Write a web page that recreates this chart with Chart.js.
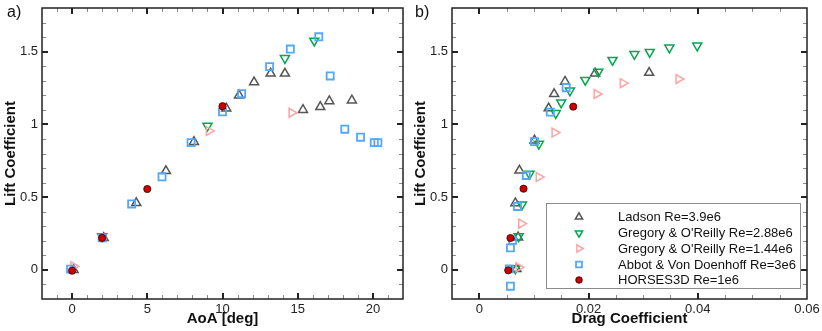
<!DOCTYPE html>
<html><head><meta charset="utf-8">
<script src="https://cdn.jsdelivr.net/npm/chart.js@4/dist/chart.umd.min.js"></script>
<style>
html,body{margin:0;padding:0;background:#fff;width:822px;height:331px;overflow:hidden}
#ca{position:absolute;left:0;top:0}
#cb{position:absolute;left:410px;top:0}
</style></head><body>
<canvas id="ca" width="410" height="331"></canvas>
<canvas id="cb" width="412" height="331"></canvas>
<script>
// ---------- Panel a) : Lift coefficient vs angle of attack ----------
const ladsonAoA   = [0.1, 2.1, 4.27, 6.24, 8.1, 10.25, 11.1, 12.1, 13.2, 14.15, 15.35, 16.5, 17.1, 18.6];
const ladsonClA   = [0.0, 0.22, 0.46, 0.68, 0.88, 1.11, 1.20, 1.29, 1.35, 1.35, 1.10, 1.12, 1.16, 1.165];
const greg288AoA  = [2.0, 9.0, 14.15, 16.1];
const greg288ClA  = [0.23, 0.99, 1.455, 1.575];
const greg144AoA  = [0.1, 9.1, 14.6];
const greg144ClA  = [0.025, 0.955, 1.08];
const abbotAoA    = [-0.1, 2.0, 3.96, 5.98, 7.91, 10.0, 11.27, 13.13, 14.51, 16.4, 17.16, 18.13, 19.18, 20.09, 20.33];
const abbotClA    = [0.005, 0.22, 0.453, 0.64, 0.875, 1.086, 1.211, 1.397, 1.518, 1.602, 1.333, 0.967, 0.912, 0.875, 0.875];
const horsesAoA   = [0, 2, 5, 10];
const horsesClA   = [-0.005, 0.22, 0.556, 1.125];

// ---------- Panel b) : Lift coefficient vs drag coefficient ----------
const ladsonCd    = [0.0068, 0.0071, 0.0066, 0.00735, 0.0101, 0.0127, 0.0137, 0.0157, 0.0212, 0.0311];
const ladsonClB   = [0.007, 0.224, 0.459, 0.683, 0.89, 1.111, 1.209, 1.294, 1.351, 1.355];
const greg288Cd   = [0.0066, 0.0072, 0.0078, 0.0092, 0.0109, 0.0140, 0.0150, 0.0166, 0.0194, 0.0218, 0.0244, 0.0284, 0.0312, 0.0348, 0.0399];
const greg288ClB  = [0.01, 0.23, 0.448, 0.66, 0.866, 1.077, 1.150, 1.232, 1.305, 1.362, 1.442, 1.483, 1.497, 1.527, 1.541];
const greg144Cd   = [0.0072, 0.0077, 0.0109, 0.0138, 0.0215, 0.0263, 0.0365];
const greg144ClB  = [0.018, 0.318, 0.638, 0.944, 1.209, 1.283, 1.312];
const abbotCd     = [0.0057, 0.0055, 0.0057, 0.0061, 0.0070, 0.0086, 0.0101, 0.0130, 0.0159];
const abbotClB    = [-0.112, 0.007, 0.151, 0.203, 0.436, 0.649, 0.882, 1.084, 1.252];
const horsesCd    = [0.0053, 0.0057, 0.0081, 0.0172];
const horsesClB   = [-0.003, 0.219, 0.558, 1.122];

// ---------- axes / tick labels ----------
const yRange = [-0.2, 1.8];
const yTickVals = [0, 0.5, 1, 1.5];
const yTickLabels = ['0', '0.5', '1', '1.5'];
const aoaRange = [-2, 22];
const aoaTickVals = [0, 5, 10, 15, 20];
const aoaTickLabels = ['0', '5', '10', '15', '20'];
const cdRange = [-0.005, 0.06];
const cdTickVals = [0, 0.02, 0.04, 0.06];
const cdTickLabels = ['0', '0.02', '0.04', '0.06'];

const seriesLabels = ['Ladson Re=3.9e6', "Gregory & O'Reilly Re=2.88e6", "Gregory & O'Reilly Re=1.44e6", 'Abbot & Von Doenhoff Re=3e6', 'HORSES3D Re=1e6'];

const FONT = "'Liberation Sans', Arial, Helvetica, sans-serif";
Chart.defaults.font.family = FONT;
Chart.defaults.color = '#111';

const styles = [
  {pointStyle:'triangle', rot:0,   border:'#555555', bg:'rgba(0,0,0,0)', r:5.2, bw:1.5, order:4},
  {pointStyle:'triangle', rot:180, border:'#00a651', bg:'rgba(0,0,0,0)', r:5.2, bw:1.5, order:3},
  {pointStyle:'triangle', rot:90,  border:'#ffa3a3', bg:'rgba(0,0,0,0)', r:5.2, bw:1.5, order:2},
  {pointStyle:'rect',     rot:0,   border:'#55a8f8', bg:'rgba(0,0,0,0)', r:5.0, bw:1.8, order:1},
  {pointStyle:'circle',   rot:0,   border:'#3a0000', bg:'#cc0000',       r:3.6, bw:0.8, order:0}
];

function ds(i, xs, ys) {
  const s = styles[i];
  return {
    label: seriesLabels[i],
    data: xs.map((v, k) => ({x: v, y: ys[k]})),
    pointStyle: s.pointStyle, pointRotation: s.rot,
    pointRadius: s.r, pointHoverRadius: s.r,
    pointBorderColor: s.border, pointBackgroundColor: s.bg,
    pointBorderWidth: s.bw, showLine: false, order: s.order
  };
}

// frame + inward ticks on all four sides
function frameTicks(xMinorStep, yMinorStep) {
  return {
    id: 'frameTicks',
    beforeDatasetsDraw(chart) {
      const {ctx, chartArea: a, scales: {x, y}} = chart;
      ctx.save();
      const isMajor = (v, list) => list.some(m => Math.abs(m - v) < 1e-9);
      const nx = Math.round((x.max - x.min) / xMinorStep);
      for (let i = 1; i < nx; i++) {
        const v = x.min + i * xMinorStep;
        const px = Math.round(x.getPixelForValue(v));
        const maj = isMajor(v, x.ticks.map(t => t.value));
        ctx.strokeStyle = maj ? '#222' : '#8a8a8a';
        ctx.lineWidth = maj ? 2 : 1;
        const L = maj ? 6 : 4;
        const xx = maj ? px : px + 0.5;
        ctx.beginPath();
        ctx.moveTo(xx, a.bottom); ctx.lineTo(xx, a.bottom - L);
        ctx.moveTo(xx, a.top); ctx.lineTo(xx, a.top + L);
        ctx.stroke();
      }
      const ny = Math.round((y.max - y.min) / yMinorStep);
      for (let i = 1; i < ny; i++) {
        const v = y.min + i * yMinorStep;
        const py = Math.round(y.getPixelForValue(v));
        const maj = isMajor(v, y.ticks.map(t => t.value));
        ctx.strokeStyle = maj ? '#222' : '#8a8a8a';
        ctx.lineWidth = maj ? 2 : 1;
        const L = maj ? 6 : 4;
        const yy = maj ? py : py + 0.5;
        ctx.beginPath();
        ctx.moveTo(a.left, yy); ctx.lineTo(a.left + L, yy);
        ctx.moveTo(a.right, yy); ctx.lineTo(a.right - L, yy);
        ctx.stroke();
      }
      ctx.strokeStyle = '#222';
      ctx.lineWidth = 1.5;
      ctx.strokeRect(a.left, a.top, a.right - a.left, a.bottom - a.top);
      ctx.restore();
    }
  };
}

function panelLabel(text, x, y) {
  return {
    id: 'panelLabel',
    afterDraw(chart) {
      const ctx = chart.ctx;
      ctx.save();
      ctx.font = '16px ' + FONT;
      ctx.fillStyle = '#111';
      ctx.textBaseline = 'alphabetic';
      ctx.textAlign = 'left';
      ctx.fillText(text, x, y);
      ctx.restore();
    }
  };
}

function drawMarker(ctx, s, x, y, r) {
  ctx.fillStyle = s.bg; ctx.strokeStyle = s.border; ctx.lineWidth = s.bw;
  if (Chart.helpers && Chart.helpers.drawPoint) {
    Chart.helpers.drawPoint(ctx, {pointStyle: s.pointStyle, rotation: s.rot, radius: r, borderWidth: s.bw}, x, y);
  } else {
    ctx.beginPath(); ctx.arc(x, y, r, 0, Math.PI * 2); ctx.fill(); ctx.stroke();
  }
}

const legendPlugin = {
  id: 'boxLegend',
  afterDatasetsDraw(chart) {
    const ctx = chart.ctx;
    const bx = 136.5, by = 203.5, bw = 254, bh = 85;
    ctx.save();
    ctx.fillStyle = '#fff';
    ctx.fillRect(bx, by, bw, bh);
    ctx.strokeStyle = '#8c8c8c'; ctx.lineWidth = 1;
    ctx.strokeRect(bx, by, bw, bh);
    const rows = [217, 233, 248.5, 264.5, 280];
    chart.data.datasets.forEach((d, i) => {
      const s = styles[i];
      drawMarker(ctx, s, 169, rows[i], i === 4 ? 3.3 : 4.2);
      ctx.fillStyle = '#111';
      ctx.font = '13px ' + FONT;
      ctx.textAlign = 'left'; ctx.textBaseline = 'middle';
      ctx.fillText(d.label, 208, rows[i] + 0.5);
    });
    ctx.restore();
  }
};

function makeOptions(xRange, xTicks, xLabels, xTitle, padRight) {
  return {
    responsive: false, animation: false, devicePixelRatio: 1,
    layout: {padding: {left: 0, top: 8, right: padRight, bottom: 0}},
    plugins: {legend: {display: false}, tooltip: {enabled: false}},
    events: [],
    scales: {
      x: {
        type: 'linear', min: xRange[0], max: xRange[1],
        grid: {display: false, drawTicks: false, tickLength: 0}, border: {display: false},
        afterBuildTicks: s => { s.ticks = xTicks.map(v => ({value: v})); },
        ticks: {callback: (v, i) => xLabels[i], padding: 3, font: {size: 13}, color: '#222', maxRotation: 0, autoSkip: false},
        title: {display: true, text: xTitle, font: {size: 15, weight: 'bold'}, color: '#111', padding: {top: 0, bottom: 3}},
        afterFit: s => { s.height = 32; s.paddingLeft = 0; s.paddingRight = 0; }
      },
      y: {
        type: 'linear', min: yRange[0], max: yRange[1],
        grid: {display: false, drawTicks: false, tickLength: 0}, border: {display: false},
        afterBuildTicks: s => { s.ticks = yTickVals.map(v => ({value: v})); },
        ticks: {callback: (v, i) => yTickLabels[i], padding: 4, font: {size: 13}, color: '#222', autoSkip: false},
        title: {display: true, text: 'Lift Coefficient', font: {size: 15, weight: 'bold'}, color: '#111', padding: {top: 2, bottom: 0}},
        afterFit: s => { s.width = 42; s.paddingTop = 0; s.paddingBottom = 0; }
      }
    }
  };
}

new Chart(document.getElementById('ca'), {
  type: 'scatter',
  data: {datasets: [
    ds(0, ladsonAoA, ladsonClA),
    ds(1, greg288AoA, greg288ClA),
    ds(2, greg144AoA, greg144ClA),
    ds(3, abbotAoA, abbotClA),
    ds(4, horsesAoA, horsesClA)
  ]},
  options: makeOptions(aoaRange, aoaTickVals, aoaTickLabels, 'AoA [deg]', 7),
  plugins: [frameTicks(1, 0.1), panelLabel('a)', 7, 17)]
});

new Chart(document.getElementById('cb'), {
  type: 'scatter',
  data: {datasets: [
    ds(0, ladsonCd, ladsonClB),
    ds(1, greg288Cd, greg288ClB),
    ds(2, greg144Cd, greg144ClB),
    ds(3, abbotCd, abbotClB),
    ds(4, horsesCd, horsesClB)
  ]},
  options: makeOptions(cdRange, cdTickVals, cdTickLabels, 'Drag Coefficient', 15),
  plugins: [frameTicks(0.005, 0.1), legendPlugin, panelLabel('b)', 5, 17)]
});
</script>
</body></html>
